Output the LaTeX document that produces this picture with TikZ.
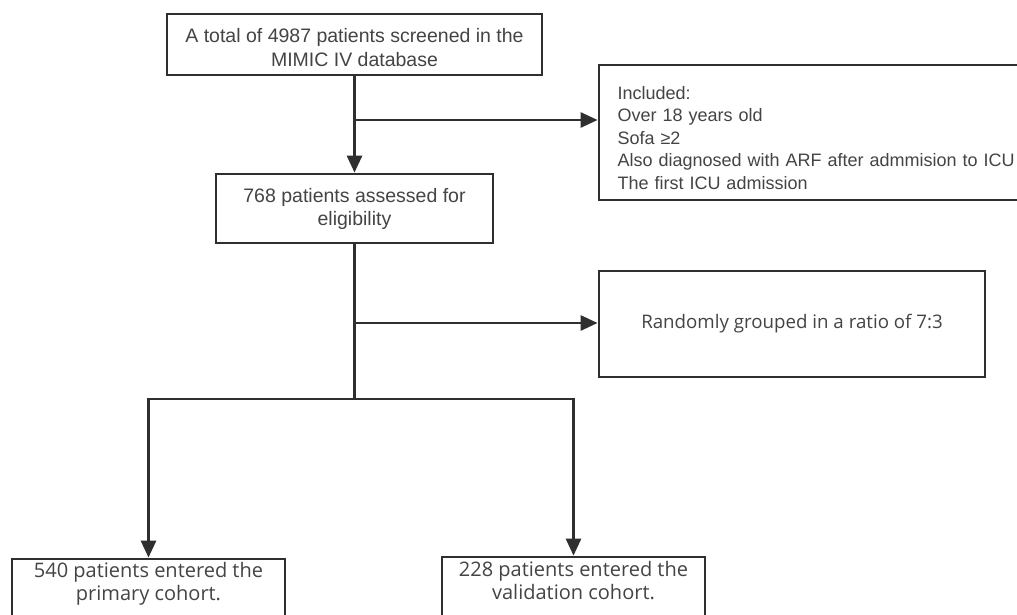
\documentclass[tikz,border=0pt]{standalone}
\usepackage{fontspec}
\setmainfont{Liberation Sans}
\newfontfamily\segoe{Open Sans}
\usetikzlibrary{arrows.meta}
\definecolor{txt}{HTML}{444444}
\definecolor{ln}{HTML}{2F2F2F}
\tikzset{
  box/.style={draw=ln, line width=2.8pt, rectangle, inner sep=0pt, text=txt, align=center},
  ar/.style={draw=ln, line width=2.8pt, -{Triangle[length=17pt,width=15pt]}},
  ln/.style={draw=ln, line width=2.8pt},
}
\begin{document}
\begin{tikzpicture}[x=1pt,y=-1pt]
\clip (0,0) rectangle (1017,615);
\fill[white] (0,0) rectangle (1017,615);
\node[box, minimum width=375pt, minimum height=61pt, font=\fontsize{19.5}{24}\selectfont] (top) at (354.5,44.5)
  {\rule{0pt}{20pt}A total of 4987 patients screened in the\\MIMIC IV database};
\node[box, minimum width=277pt, minimum height=69pt, font=\fontsize{19.5}{23}\selectfont] (elig) at (354.5,208.5)
  {768 patients assessed for\\eligibility};
\node[box, minimum width=461pt, minimum height=135pt, align=left, text width=424pt, font=\fontsize{18}{22.5}\selectfont] (incl) at (829.5,132.5)
  {\rule{0pt}{24pt}Included:\\Over 18 years old\\Sofa ≥2\\Also diagnosed with ARF after admmision to ICU\\The first ICU admission};
\node[box, minimum width=386pt, minimum height=106pt, font=\segoe\fontsize{18.7}{22}\selectfont] (rand) at (792,324)
  {Randomly grouped in a ratio of 7:3};
\node[box, minimum width=273pt, minimum height=66pt, font=\segoe\fontsize{20}{23}\selectfont] (prim) at (148.5,592)
  {540 patients entered the\\primary cohort.\rule[-21pt]{0pt}{0pt}};
\node[box, minimum width=263pt, minimum height=68pt, font=\segoe\fontsize{20}{23}\selectfont] (vali) at (573.5,591)
  {228 patients entered the\\validation cohort.\rule[-21pt]{0pt}{0pt}};
\coordinate (b1) at (354.5,120);
\coordinate (b2) at (354.5,323);
\coordinate (b3) at (354.5,399);
\draw[ar] (top.south) -- (elig.north);
\draw[ar] (b1) -- (b1 -| incl.west);
\draw[ln] (elig.south) -- (b3);
\draw[ar] (b2) -- (b2 -| rand.west);
\draw[ln, line cap=rect] (b3 -| prim.north) -- (b3 -| vali.north);
\draw[ar] (b3 -| prim.north) -- (prim.north);
\draw[ar] (b3 -| vali.north) -- (vali.north);
\end{tikzpicture}
\end{document}
